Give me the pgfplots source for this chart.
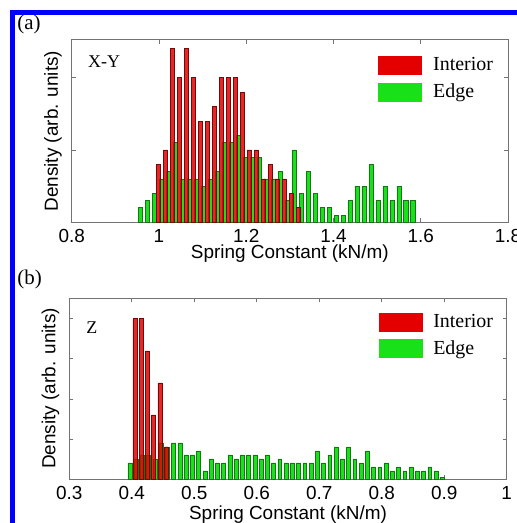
\documentclass[border=0pt]{standalone}
\usepackage{fontspec}
\setmainfont{Liberation Serif}
\newfontfamily\arial{Liberation Sans}
\usepackage{pgfplots}
\pgfplotsset{compat=1.18}

\definecolor{barred}{RGB}{228,0,0}
\definecolor{edgered}{RGB}{115,10,10}
\definecolor{bargreen}{RGB}{25,225,25}
\definecolor{edgegreen}{RGB}{25,115,25}
\definecolor{framegray}{RGB}{115,115,115}

% green (edge) and red (interior) histograms, heights in arbitrary counts
\pgfplotstableread{
x h
0.958 2
0.974 3
0.990 4
1.006 6
1.022 7
1.038 11
1.054 6
1.070 6
1.086 6
1.102 5
1.118 6
1.134 7
1.150 11
1.166 11
1.182 12
1.198 9
1.214 9
1.230 9
1.246 6
1.262 6
1.278 7
1.294 3
1.310 10
1.326 4
1.342 7
1.358 4
1.374 2
1.390 2
1.406 1
1.422 1
1.438 3
1.454 5
1.470 5
1.486 8
1.502 3
1.518 5
1.534 3
1.550 5
1.566 3
1.582 3
}\xyedge
\pgfplotstableread{
x h
0.999 8
1.015 10
1.031 24
1.047 20
1.063 24
1.079 20
1.095 14
1.111 14
1.127 16
1.143 20
1.159 20
1.175 20
1.191 18
1.207 10
1.223 10
1.239 6
1.255 8
1.271 6
1.287 6
1.303 4
1.319 2
}\xyint
\pgfplotstableread{
x h
0.397 2
0.407 2.5
0.417 3
0.427 3
0.437 2.5
0.447 4.5
0.457 4
0.467 4.5
0.477 4.5
0.487 3
0.497 3
0.507 3.5
0.517 1
0.527 2.5
0.537 2
0.547 2
0.557 3
0.567 2.5
0.577 3
0.587 3
0.597 3
0.607 2.5
0.617 3
0.627 2
0.637 2.5
0.647 2
0.657 2
0.667 2
0.677 2
0.687 2
0.697 3.5
0.707 2
0.717 3
0.727 4
0.737 2.5
0.747 4
0.757 2.5
0.767 2
0.777 3.5
0.787 1.5
0.797 1.5
0.807 2
0.817 1
0.827 1.5
0.837 1
0.847 1.5
0.857 1
0.867 1
0.877 1.5
0.887 1
0.897 0.2
}\zedge
\pgfplotstableread{
x h
0.405 20
0.415 20
0.425 16
0.435 8
0.445 12
0.455 4
}\zint

\pgfplotsset{
  springaxis/.style={
    scale only axis,
    axis line style={framegray, line width=0.5bp},
    tick style={framegray, line width=0.4bp},
    major tick length=2bp,
    ymin=0, yticklabels={},
    tick label style={font=\arial\fontsize{9.5}{11}\selectfont},
    /pgf/number format/assume math mode=true,
    xlabel={Spring Constant (kN/m)},
    ylabel={Density (arb. units)},
    label style={font=\arial\fontsize{9.5}{11}\selectfont, inner sep=0pt},
    ylabel style={at={(axis description cs:-0.043,0.5)}, anchor=center},
    legend cell align=left,
    legend style={draw=none, fill=none, inner sep=0pt, row sep=3bp, column sep=4.5bp,
      font=\fontsize{10}{12}\selectfont,
      nodes={inner sep=1bp}},
  },
  redbar/.style={ybar, bar shift=0pt, bar width=#1, fill=barred, draw=edgered,
    line width=0.35bp, fill opacity=0.85, forget plot},
  greenbar/.style={ybar, bar shift=0pt, bar width=#1, fill=bargreen, draw=edgegreen,
    line width=0.35bp, forget plot},
}

\begin{document}
\begin{tikzpicture}
\useasboundingbox (0,0) rectangle (258.5bp,-261.5bp);
\fill[white] (0,0) rectangle (258.5bp,-261.5bp);
\draw[blue, line width=2.7bp] (6.1bp,-275bp) -- (6.1bp,-6.25bp) -- (275bp,-6.25bp);

\node[anchor=base west, inner sep=0pt, font=\fontsize{10.5}{12}\selectfont] at (8.5bp,-14.5bp) {(a)};
\node[anchor=base west, inner sep=0pt, font=\fontsize{10.5}{12}\selectfont] at (8.5bp,-142bp) {(b)};

\begin{axis}[springaxis,
    at={(35.85bp,-111.15bp)}, anchor=south west,
    width=218.15bp, height=91.15bp,
    xmin=0.8, xmax=1.8, ymax=25.2,
    xtick={0.8,1,1.2,1.4,1.6,1.8}, ytick={10,20},
    xlabel style={at={(axis description cs:0.5,-0.174)}, anchor=center},
    legend style={at={(0.702,0.918)}, anchor=north west},
]
\addplot[greenbar=0.0095] table[x=x, y=h] {\xyedge};
\addplot[redbar=0.0095] table[x=x, y=h] {\xyint};
\addlegendimage{legend image code/.code={\fill[barred] (0bp,-4.5bp) rectangle (21.5bp,4.5bp);}}
\addlegendentry{Interior}
\addlegendimage{legend image code/.code={\fill[bargreen] (0bp,-4.5bp) rectangle (21.5bp,4.5bp);}}
\addlegendentry{Edge}
\node[anchor=west, inner sep=0pt, font=\fontsize{9}{11}\selectfont] at (axis description cs:0.037,0.879) {X-Y};
\end{axis}

\begin{axis}[springaxis,
    at={(34.65bp,-239.5bp)}, anchor=south west,
    width=218.7bp, height=90.5bp,
    xmin=0.3, xmax=1, ymax=22.6,
    xtick={0.3,0.4,0.5,0.6,0.7,0.8,0.9,1}, ytick={5,10,15,20},
    xlabel style={at={(axis description cs:0.5,-0.195)}, anchor=center},
    legend style={at={(0.706,0.924)}, anchor=north west},
]
\addplot[greenbar=0.0063] table[x=x, y=h] {\zedge};
\addplot[redbar=0.0063] table[x=x, y=h] {\zint};
\addlegendimage{legend image code/.code={\fill[barred] (0bp,-4.5bp) rectangle (21.5bp,4.5bp);}}
\addlegendentry{Interior}
\addlegendimage{legend image code/.code={\fill[bargreen] (0bp,-4.5bp) rectangle (21.5bp,4.5bp);}}
\addlegendentry{Edge}
\node[anchor=west, inner sep=0pt, font=\fontsize{9}{11}\selectfont] at (axis description cs:0.038,0.834) {Z};
\end{axis}
\end{tikzpicture}
\end{document}
